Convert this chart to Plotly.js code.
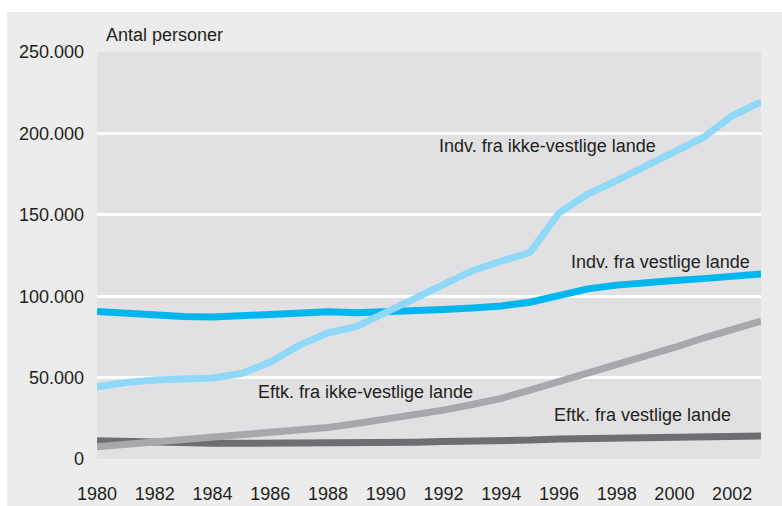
<!DOCTYPE html>
<html>
<head>
<meta charset="utf-8">
<script src="https://cdn.plot.ly/plotly-3.0.1.min.js"></script>
<style>
  html, body { margin: 0; padding: 0; background: #ffffff; width: 782px; height: 506px; overflow: hidden; }
  #chart { position: absolute; left: 7px; top: 12px; width: 775px; height: 494px; }
</style>
</head>
<body>
<div id="chart"></div>
<script>
const years = [1980,1981,1982,1983,1984,1985,1986,1987,1988,1989,1990,1991,1992,1993,1994,1995,1996,1997,1998,1999,2000,2001,2002,2003];

const indvIkkeVestlige = [44300,47000,48500,49400,49800,52500,59600,69800,77500,81500,90000,98500,107000,115700,121500,127000,151000,162700,171000,179700,188200,197500,210700,219400];
const indvVestlige = [90600,89500,88300,87600,87200,88000,89200,90500,90400,89800,90200,91300,91900,92800,94000,96300,100800,104500,106800,108600,109600,110800,112200,113700];
const eftkIkkeVestlige = [7500,9000,10500,11600,12700,14100,15700,17300,19400,21800,24400,27200,30000,33500,37200,42300,47500,52300,57500,63000,68500,74300,79500,84700];
const eftkVestlige = [11200,10600,10100,9900,9700,9600,9600,9600,9700,9900,10100,10300,10800,10900,11200,11600,12300,12500,12800,13100,13400,13700,13900,14100];

const seriesNames = ["Eftk. fra vestlige lande","Eftk. fra ikke-vestlige lande","Indv. fra vestlige lande","Indv. fra ikke-vestlige lande"];
const xTickVals = [1980,1982,1984,1986,1988,1990,1992,1994,1996,1998,2000,2002];
const xTickText = ["1980","1982","1984","1986","1988","1990","1992","1994","1996","1998","2000","2002"];
const yTickVals = [0,50000,100000,150000,200000,250000];
const yTickText = ["0","50.000","100.000","150.000","200.000","250.000"];
const yAxisLabel = "Antal personer";

const FONT = "'Liberation Sans', Arial, sans-serif";
const FS = 18;
const TXT = "#231f20";

function line(y, name, color) {
  return { x: years, y: y, name: name, type: "scatter", mode: "lines",
           line: { color: color, width: 7 }, hoverinfo: "skip" };
}

const data = [
  line(eftkVestlige, seriesNames[0], "#6d6e71"),
  line(eftkIkkeVestlige, seriesNames[1], "#a6a8ab"),
  line(indvVestlige, seriesNames[2], "#00b6ef"),
  line(indvIkkeVestlige, seriesNames[3], "#8fd8f8")
];

function ann(text, x, y) {
  return { text: text, x: x, y: y, xref: "x", yref: "y", xanchor: "left", yanchor: "middle",
           showarrow: false, font: { family: FONT, size: FS, color: TXT } };
}

const layout = {
  width: 775, height: 494,
  margin: { l: 90, r: 21, t: 40, b: 47, pad: 0 },
  paper_bgcolor: "#ebeceb",
  plot_bgcolor: "#e1e1e3",
  showlegend: false,
  separators: ",.",
  font: { family: FONT, size: FS, color: TXT },
  xaxis: {
    range: [1980, 2003], tickvals: xTickVals, ticktext: xTickText,
    showgrid: false, zeroline: false, showline: false, ticks: "",
    ticklabelstandoff: 22, tickfont: { family: FONT, size: FS, color: TXT }
  },
  yaxis: {
    range: [0, 250000], tickvals: yTickVals, ticktext: yTickText,
    showgrid: true, gridcolor: "#ffffff", gridwidth: 3, zeroline: false, showline: false, ticks: "",
    ticklabelstandoff: 12, tickfont: { family: FONT, size: FS, color: TXT }
  },
  annotations: [
    { text: yAxisLabel, x: 0.0105, y: 1.042, xref: "paper", yref: "paper", xanchor: "left", yanchor: "middle",
      showarrow: false, font: { family: FONT, size: FS, color: TXT } },
    ann(seriesNames[3], 1991.78, 192300),
    ann(seriesNames[2], 1996.36, 120800),
    ann(seriesNames[1], 1985.51, 41200),
    ann(seriesNames[0], 1995.75, 26900)
  ]
};

Plotly.newPlot("chart", data, layout, { displayModeBar: false, staticPlot: true });
</script>
</body>
</html>
